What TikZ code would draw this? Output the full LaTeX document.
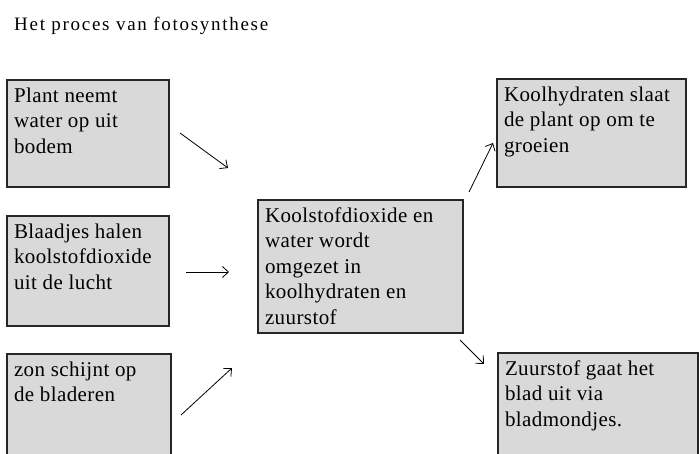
\documentclass[tikz,border=0pt]{standalone}
\usepackage{fontspec}
\setmainfont{Liberation Serif}[LetterSpace=2]
\newfontfamily\titlefont{Liberation Serif}[LetterSpace=9]
\usetikzlibrary{arrows.meta}
\definecolor{boxgray}{RGB}{217,217,217}
\tikzset{
  box/.style={draw=black!85, line width=1.6pt, fill=boxgray, inner sep=0pt, outer sep=0pt, anchor=north west},
  arr/.style={line width=0.8pt, -{Straight Barb[length=6pt,width=11pt]}},
}
\newcommand{\boxtext}[3]{\parbox[t][#2][t]{#1}{\vspace{7.5pt}\hspace*{0pt}\begin{minipage}[t]{#1}\fontsize{21}{25.5}\selectfont\raggedright\leftskip=7pt #3\end{minipage}}}
\begin{document}
\begin{tikzpicture}[x=1pt,y=-1pt]
\useasboundingbox (0,0) rectangle (699,454);
\node[anchor=base west, inner sep=0pt, font=\titlefont\fontsize{19}{21}\selectfont] (title) at (14,31) {Het proces van fotosynthese};
\node[box] (b1) at (7,80) {\boxtext{162pt}{107pt}{Plant neemt\\water op uit\\bodem}};
\node[box] (b2) at (7,216) {\boxtext{162pt}{110pt}{Blaadjes halen\\koolstofdioxide\\uit de lucht}};
\node[box] (b3) at (7,354) {\boxtext{164pt}{110pt}{zon schijnt op\\de bladeren}};
\node[box] (c) at (258,200) {\boxtext{205pt}{133pt}{Koolstofdioxide en\\water wordt\\omgezet in\\koolhydraten en\\zuurstof}};
\node[box] (r1) at (497,79) {\boxtext{189pt}{108pt}{Koolhydraten slaat\\de plant op om te\\groeien}};
\node[box] (r2) at (498,353) {\boxtext{200pt}{110pt}{Zuurstof gaat het\\blad uit via\\bladmondjes.}};
\coordinate (a1s) at (180,133); \coordinate (a1e) at (228,168);
\coordinate (a2s) at (186,272); \coordinate (a2e) at (229,272);
\coordinate (a3s) at (181,415); \coordinate (a3e) at (232,368);
\coordinate (a4s) at (469,192); \coordinate (a4e) at (493,143);
\coordinate (a5s) at (460,340); \coordinate (a5e) at (484,364);
\draw[arr] (a1s) -- (a1e);
\draw[arr] (a2s) -- (a2e);
\draw[arr] (a3s) -- (a3e);
\draw[arr] (a4s) -- (a4e);
\draw[arr] (a5s) -- (a5e);
\end{tikzpicture}
\end{document}
